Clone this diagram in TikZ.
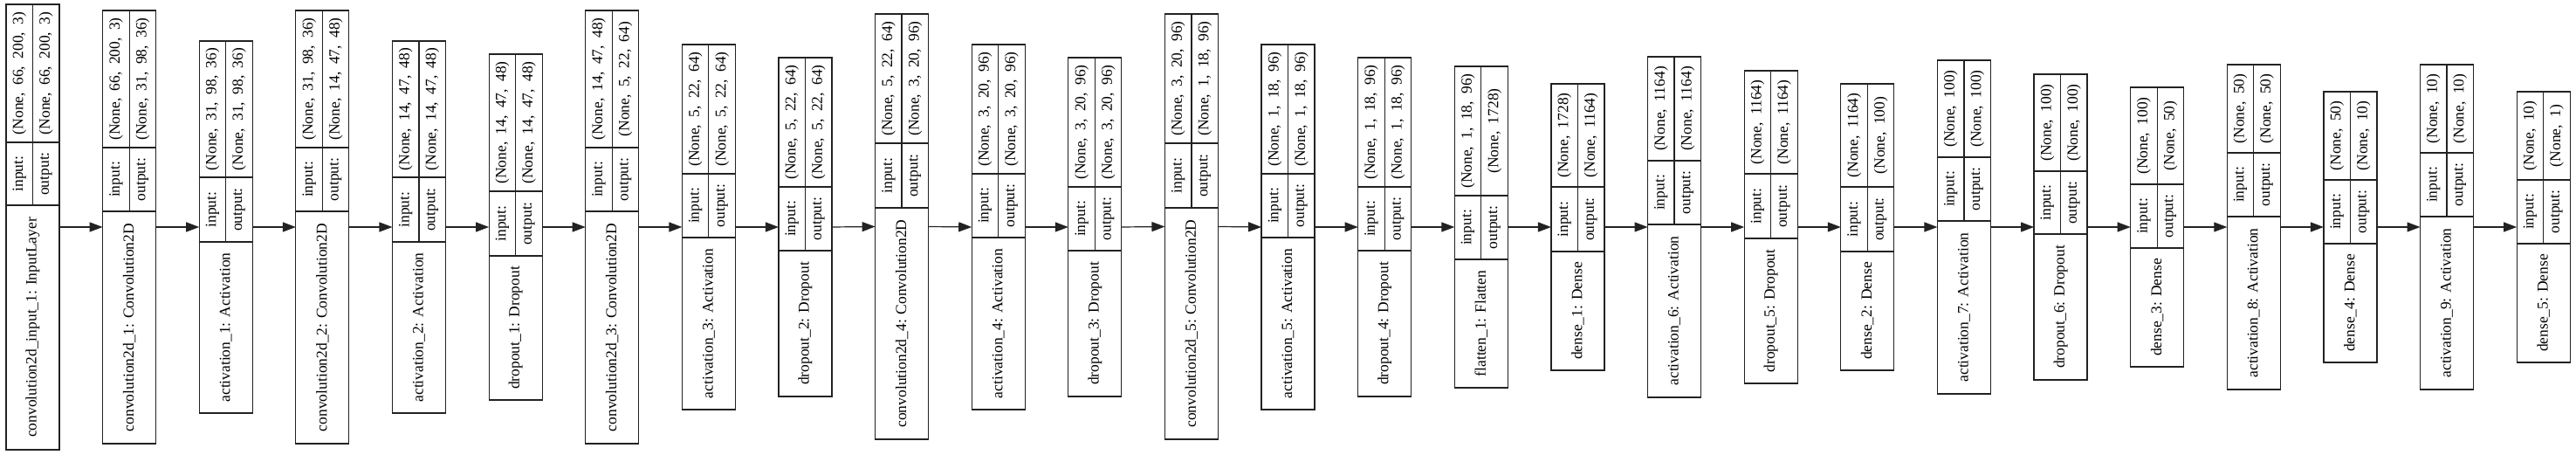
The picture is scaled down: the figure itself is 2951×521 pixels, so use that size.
\documentclass[tikz,border=0pt]{standalone}
\usepackage{fontspec}
\setmainfont{Liberation Serif}
\usetikzlibrary{arrows.meta}
\definecolor{edgecol}{HTML}{222222}
\tikzset{
  layerbox/.style={draw=edgecol, line width=1.2pt, rectangle, inner sep=0pt, outer sep=0pt, minimum width=61pt},
  sepline/.style={draw=edgecol, line width=1.2pt},
  lbl/.style={rotate=90, inner sep=0pt, font=\fontsize{17.5pt}{20pt}\selectfont},
  shp/.style={lbl, execute at begin node={\spaceskip=0.48em plus 0.1em}},
  arr/.style={draw=edgecol, line width=1.2pt, -{Triangle[length=15pt,width=11pt]}}
}
\newcommand\layerrec[8]{%
  \pgfmathsetmacro\xl{7+110.62*#1}%
  \pgfmathsetmacro\xc{\xl+30.5}%
  \pgfmathsetmacro\xa{\xl+15.25}%
  \pgfmathsetmacro\xb{\xl+45.75}%
  \pgfmathsetmacro\xr{\xl+61}%
  \node[layerbox, minimum height={(#5-#2)*1pt}] (L#1) at (\xc,{(#2+#5)/2}) {};
  \draw[sepline] (\xl,#3) -- (\xr,#3);
  \draw[sepline] (\xl,#4) -- (\xr,#4);
  \draw[sepline] (\xc,#2) -- (\xc,#4);
  \node[lbl] (name#1) at (\xc,{(#4+#5)/2}) {#6};
  \node[lbl] (inl#1) at (\xa,{(#3+#4)/2}) {input:};
  \node[lbl] (outl#1) at (\xb,{(#3+#4)/2}) {output:};
  \node[shp] (ins#1) at (\xa,{(#2+#3)/2}) {#7};
  \node[shp] (outs#1) at (\xb,{(#2+#3)/2}) {#8};
}
\begin{document}
\begin{tikzpicture}[x=1pt,y=-1pt]
\useasboundingbox (0,0) rectangle (2951,521);
\layerrec{0}{5}{163}{235}{515}{convolution2d\_input\_1: InputLayer}{(None, 66, 200, 3)}{(None, 66, 200, 3)}
\layerrec{1}{12}{169}{242}{508}{convolution2d\_1: Convolution2D}{(None, 66, 200, 3)}{(None, 31, 98, 36)}
\layerrec{2}{47}{203}{277}{473}{activation\_1: Activation}{(None, 31, 98, 36)}{(None, 31, 98, 36)}
\layerrec{3}{12}{169}{242}{508}{convolution2d\_2: Convolution2D}{(None, 31, 98, 36)}{(None, 14, 47, 48)}
\layerrec{4}{47}{203}{277}{473}{activation\_2: Activation}{(None, 14, 47, 48)}{(None, 14, 47, 48)}
\layerrec{5}{62}{219}{293}{458}{dropout\_1: Dropout}{(None, 14, 47, 48)}{(None, 14, 47, 48)}
\layerrec{6}{12}{169}{242}{508}{convolution2d\_3: Convolution2D}{(None, 14, 47, 48)}{(None, 5, 22, 64)}
\layerrec{7}{51}{199}{272}{469}{activation\_3: Activation}{(None, 5, 22, 64)}{(None, 5, 22, 64)}
\layerrec{8}{66}{214}{287}{454}{dropout\_2: Dropout}{(None, 5, 22, 64)}{(None, 5, 22, 64)}
\layerrec{9}{16}{164}{238}{503}{convolution2d\_4: Convolution2D}{(None, 5, 22, 64)}{(None, 3, 20, 96)}
\layerrec{10}{51}{199}{272}{469}{activation\_4: Activation}{(None, 3, 20, 96)}{(None, 3, 20, 96)}
\layerrec{11}{66}{214}{287}{454}{dropout\_3: Dropout}{(None, 3, 20, 96)}{(None, 3, 20, 96)}
\layerrec{12}{16}{164}{238}{503}{convolution2d\_5: Convolution2D}{(None, 3, 20, 96)}{(None, 1, 18, 96)}
\layerrec{13}{51}{199}{272}{469}{activation\_5: Activation}{(None, 1, 18, 96)}{(None, 1, 18, 96)}
\layerrec{14}{66}{214}{287}{454}{dropout\_4: Dropout}{(None, 1, 18, 96)}{(None, 1, 18, 96)}
\layerrec{15}{76}{224}{297}{444}{flatten\_1: Flatten}{(None, 1, 18, 96)}{(None, 1728)}
\layerrec{16}{96}{214}{288}{424}{dense\_1: Dense}{(None, 1728)}{(None, 1164)}
\layerrec{17}{65}{184}{257}{455}{activation\_6: Activation}{(None, 1164)}{(None, 1164)}
\layerrec{18}{81}{199}{273}{439}{dropout\_5: Dropout}{(None, 1164)}{(None, 1164)}
\layerrec{19}{96}{214}{288}{424}{dense\_2: Dense}{(None, 1164)}{(None, 100)}
\layerrec{20}{69}{180}{253}{451}{activation\_7: Activation}{(None, 100)}{(None, 100)}
\layerrec{21}{85}{196}{268}{435}{dropout\_6: Dropout}{(None, 100)}{(None, 100)}
\layerrec{22}{100}{211}{284}{420}{dense\_3: Dense}{(None, 100)}{(None, 50)}
\layerrec{23}{74}{175}{248}{446}{activation\_8: Activation}{(None, 50)}{(None, 50)}
\layerrec{24}{105}{206}{279}{415}{dense\_4: Dense}{(None, 50)}{(None, 10)}
\layerrec{25}{74}{175}{248}{446}{activation\_9: Activation}{(None, 10)}{(None, 10)}
\layerrec{26}{105}{206}{279}{415}{dense\_5: Dense}{(None, 10)}{(None, 1)}
\foreach \i in {0,...,25}{
  \pgfmathtruncatemacro\j{\i+1}
  \draw[arr] (L\i.east) -- (L\j.west);
}
\end{tikzpicture}
\end{document}
